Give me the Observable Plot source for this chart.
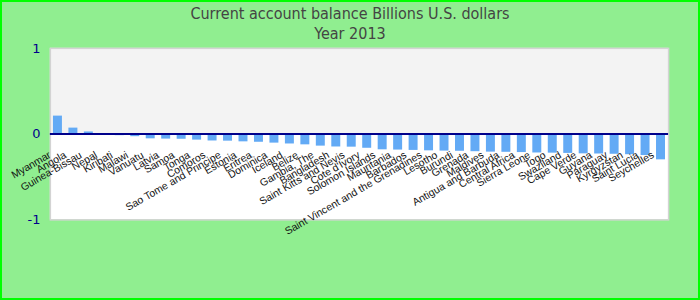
<!DOCTYPE html>
<html><head><meta charset="utf-8">
<script src="https://cdn.jsdelivr.net/npm/d3@7"></script>
<script src="https://cdn.jsdelivr.net/npm/@observablehq/plot@0.6"></script>
<style>
html,body{margin:0;padding:0;background:#fff;}
#wrap{position:relative;width:700px;height:300px;background:#90ee90;border:2px solid #00ff00;box-sizing:border-box;overflow:hidden;}
#title{position:absolute;left:-2px;top:2px;width:700px;text-align:center;font-family:"Liberation Sans Narrow","Arial Narrow","DejaVu Sans Condensed",sans-serif;font-stretch:condensed;font-size:16px;color:#444;line-height:20px;}
#chart{position:absolute;left:-2px;top:-2px;}
</style></head>
<body>
<div id="wrap"><div id="title">Current account balance Billions U.S. dollars<br>Year 2013</div><div id="chart"></div></div>
<script>
const countries = ["Myanmar","Angola","Guinea-Bissau","Nepal","Kiribati","Malawi","Vanuatu","Latvia","Samoa","Tonga","Comoros","Sao Tome and Principe","Estonia","Eritrea","Dominica","Iceland","Belize","Gambia, The","Bangladesh","Saint Kitts and Nevis","Cote d'Ivory","Solomon Islands","Mauritania","Barbados","Saint Vincent and the Grenadines","Lesotho","Burundi","Grenada","Maldives","Antigua and Barbuda","Central Africa","Sierra Leone","Togo","Swaziland","Cape Verde","Guyana","Paraguay","Kyrgyzstan","Saint Lucia","Seychelles"];
const values = [0.21,0.07,0.025,-0.015,-0.018,-0.03,-0.055,-0.058,-0.06,-0.07,-0.08,-0.082,-0.09,-0.095,-0.105,-0.115,-0.125,-0.14,-0.15,-0.152,-0.165,-0.183,-0.186,-0.19,-0.195,-0.198,-0.2,-0.205,-0.21,-0.212,-0.215,-0.22,-0.222,-0.225,-0.23,-0.232,-0.235,-0.24,-0.25,-0.3];
const yTicks = [-1, 0, 1];

const data = countries.map((c, i) => ({country: c, value: values[i]}));

const chart = Plot.plot({
  width: 700, height: 300,
  marginLeft: 50, marginRight: 30, marginTop: 48, marginBottom: 80,
  style: {background: "transparent", overflow: "visible"},
  x: {domain: countries, paddingInner: 0.42, paddingOuter: 0.2, round: false, axis: null},
  y: {domain: [-1, 1], label: null},
  marks: [
    Plot.rect([{}], {y1: 0, y2: 1, fill: "#f3f3f3"}),
    Plot.rect([{}], {y1: -1, y2: 0, fill: "#ffffff"}),
    Plot.frame({stroke: "#d3d3d3", strokeWidth: 1.5}),
    Plot.barY(data, {x: "country", y: "value", fill: "#63aaf5"}),
    Plot.ruleY([0], {stroke: "#00008b", strokeWidth: 2}),
    Plot.axisY({ticks: yTicks, label: null, tickSize: 0, tickPadding: 10, tickFormat: d => String(d), fontSize: 13, fontFamily: "DejaVu Sans", fill: "#00008b", stroke: "none"}),
    Plot.text(data, {x: "country", y: 0, text: "country", rotate: -30, textAnchor: "end", dx: -8, dy: 20, fontSize: 10.5, fontFamily: "Liberation Sans, Arial, sans-serif", fill: "#111"})
  ]
});
document.getElementById("chart").appendChild(chart);
</script>
</body></html>
